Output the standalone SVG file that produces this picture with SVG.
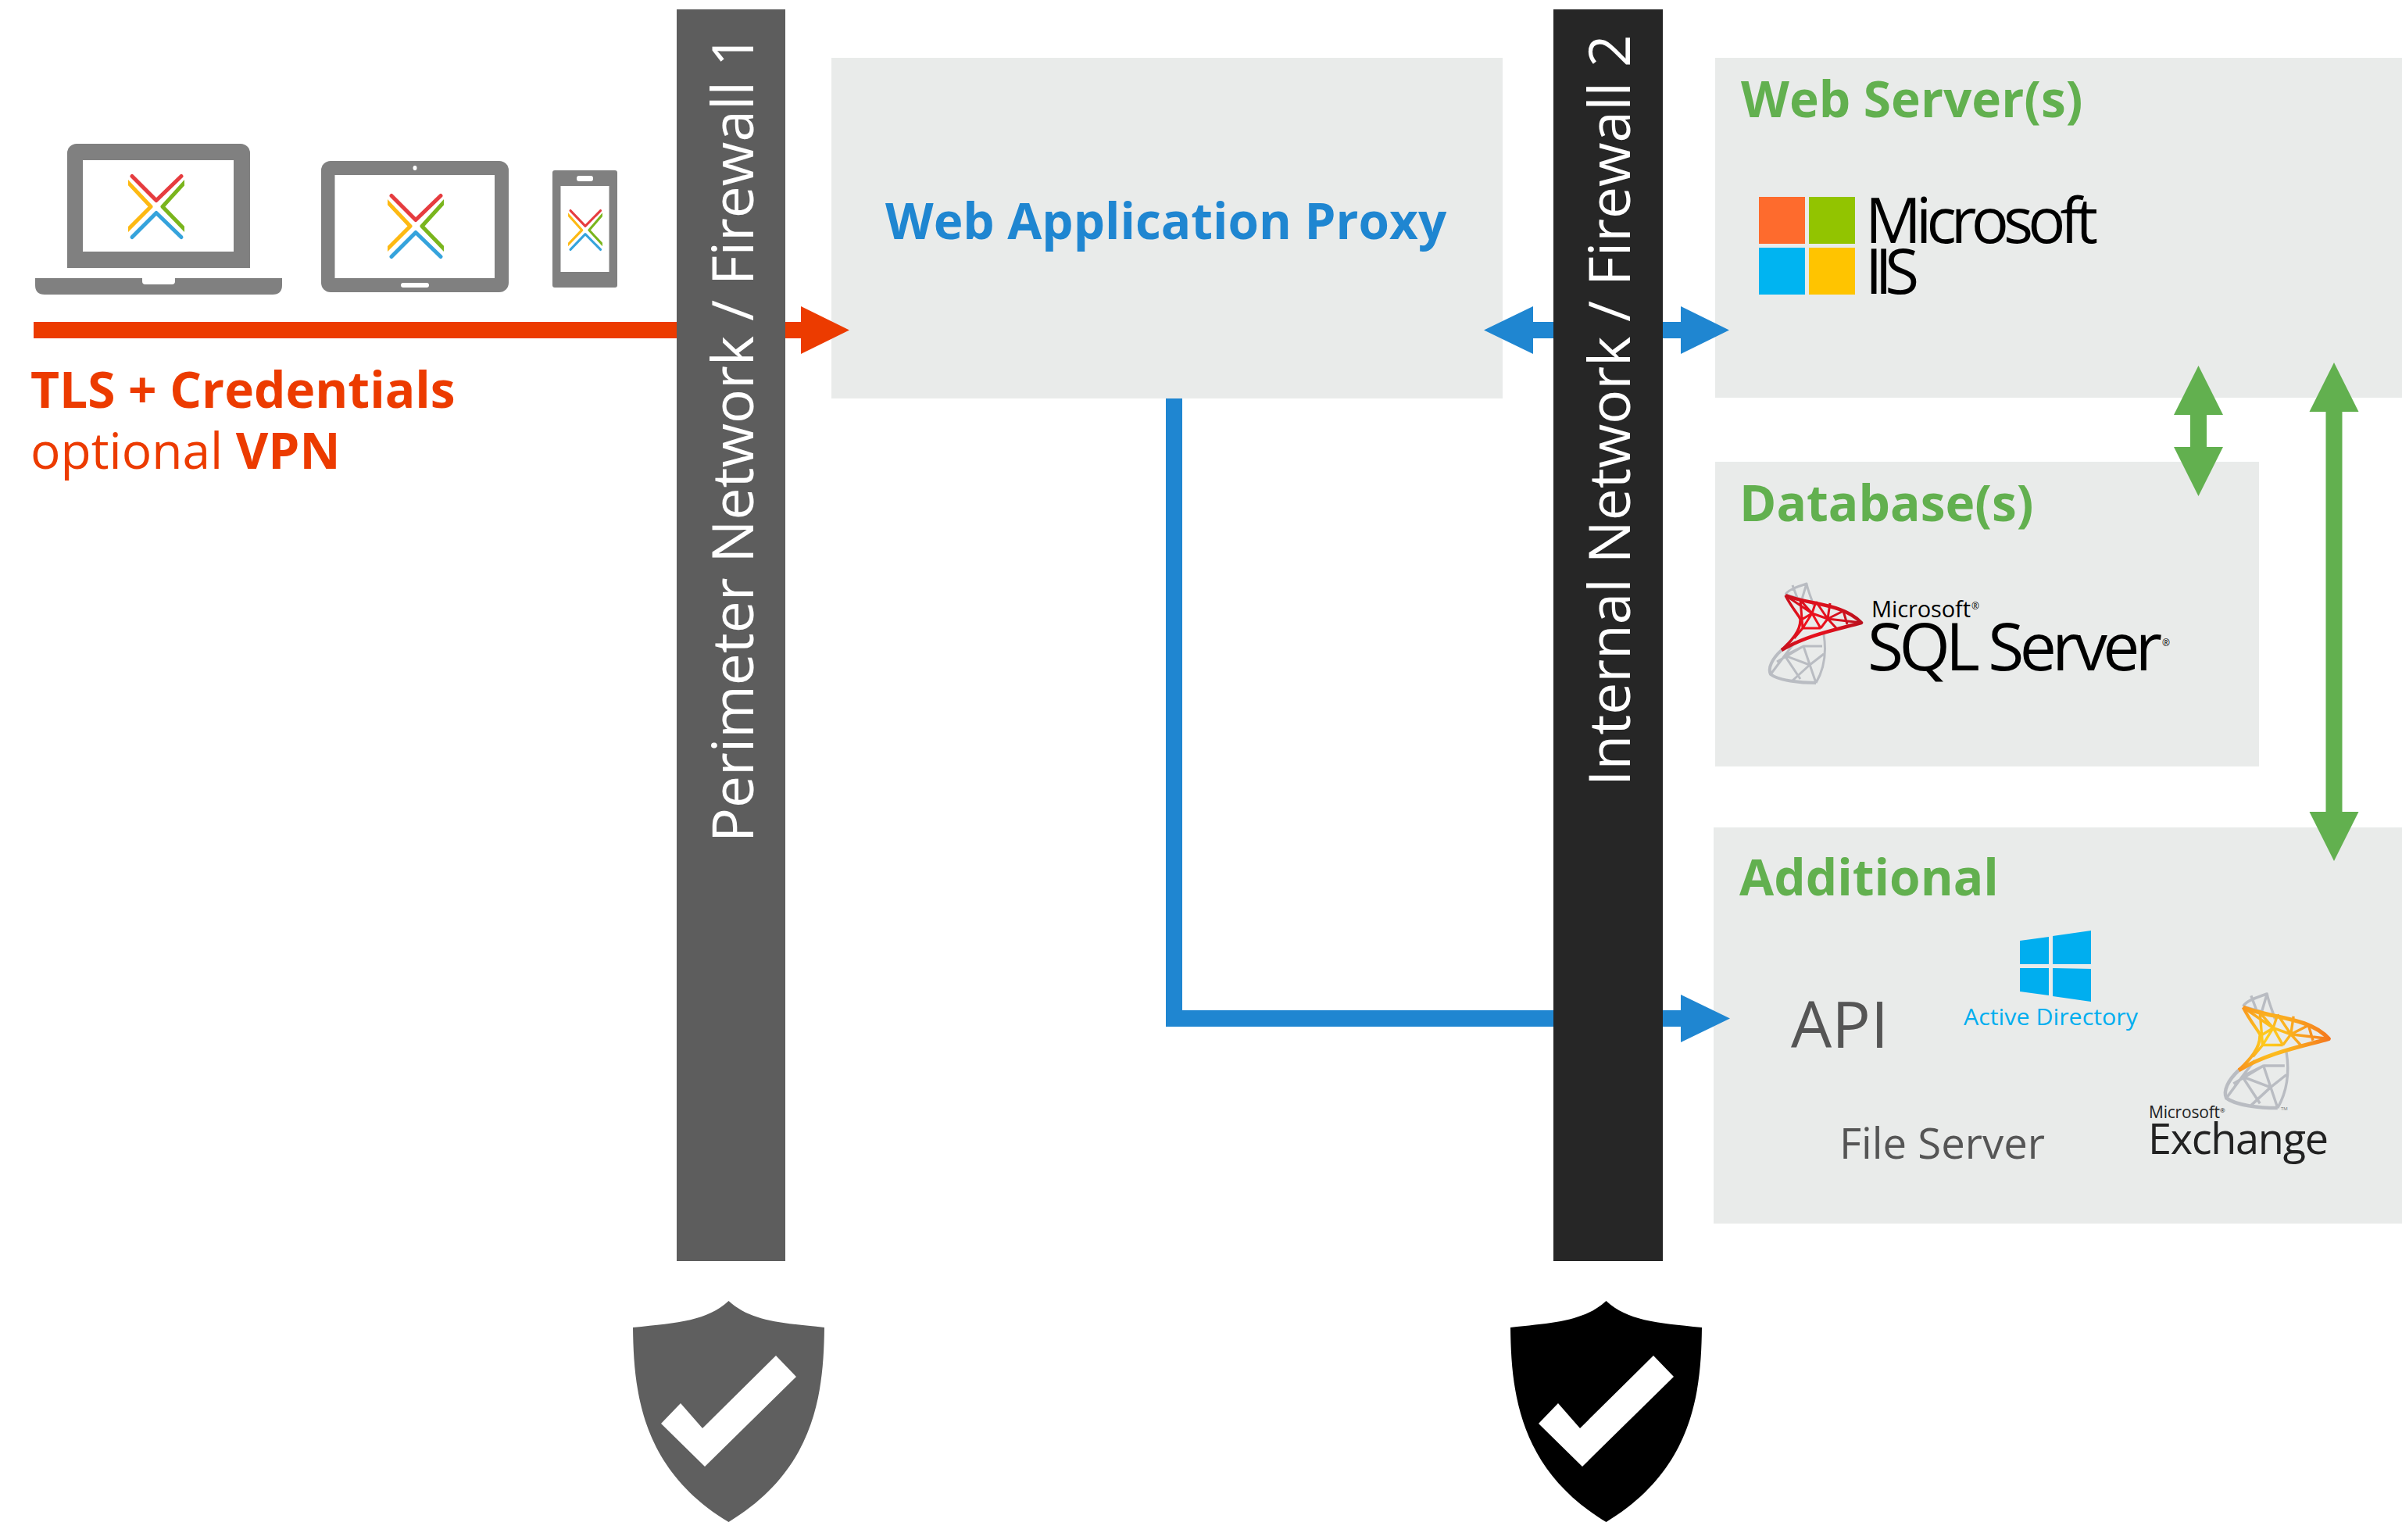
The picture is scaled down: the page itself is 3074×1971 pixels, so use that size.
<svg xmlns="http://www.w3.org/2000/svg" xmlns:xlink="http://www.w3.org/1999/xlink" width="3074" height="1971" viewBox="0 0 3074 1971">
<style>
text{font-family:"Open Sans","Noto Sans","Liberation Sans",sans-serif}
.box{fill:#e9ebea}
.h{font-weight:700;font-size:64px;fill:#62b04f}
.org{fill:#ec3b00;font-size:64px}
.b{font-weight:700}
.fw{font-size:73px;fill:#fff}
.dev{fill:#808080}
.scr{fill:#fff}
.gr{fill:#555;font-weight:400}
.ms{font-weight:400;fill:#000}
.blue{fill:#1f86d1}
.green{fill:#62b04f}
.orange{fill:#ec3b00}
.xl{fill:none;stroke-width:5;stroke-linecap:round;stroke-linejoin:round}
.mesh{fill:none;stroke-linejoin:round}
</style>
<defs>
<radialGradient id="sqlGrad" gradientUnits="userSpaceOnUse" cx="55" cy="50" r="70">
<stop offset="0" stop-color="#f5101c"/><stop offset="1" stop-color="#b3121f"/>
</radialGradient>
<radialGradient id="exGrad" gradientUnits="userSpaceOnUse" cx="50" cy="50" r="70">
<stop offset="0" stop-color="#ffd21e"/><stop offset="1" stop-color="#f4751f"/>
</radialGradient>
<clipPath id="xclip"><rect x="-36" y="-44" width="72" height="88"/></clipPath>
<g id="x" clip-path="url(#xclip)">
<path class="xl" stroke="#e63c3f" d="M-31,-39 L0,-8 L32,-39"/>
<path class="xl" stroke="#35a3dc" d="M-31,39 L0,8 L32,39"/>
<path class="xl" stroke="#fdb913" d="M-38,-33 L-7,0 L-38,31"/>
<path class="xl" stroke="#7ab51d" d="M38,-33 L8,0 L38,31"/>
</g>
<g id="meshLow" class="mesh" stroke="#b9bcc2" stroke-width="3">
<path d="M21,14 C24,8 36,4 48,0 C50,10 54,18 57,28 M21,14 L42,20 M30,2 L36,18 M48,0 L42,20"/>
<path stroke-width="4" d="M16,85 C4,96 -2,108 2,116 C12,124 40,127 60,127"/>
<path d="M60,127 C70,110 74,90 70,65 M2,116 L20,92 L44,80 L60,127 M20,92 L40,122 M20,92 L52,104 L70,90 M10,100 L44,80 M30,124 L52,104 M34,74 L20,92 M44,80 L68,80"/>
</g>
<g id="meshTop" class="mesh">
<path stroke-width="4.5" d="M21,15 C50,27 95,25 118,50 C90,58 50,65 16,85"/>
<path stroke-width="3.5" d="M21,15 C30,33 42,45 40,47 C40,60 30,72 16,85"/>
<path stroke-width="3" d="M21,15 L55,38 L75,45 L118,50 M60,23 L55,38 L43,57 M60,23 L75,45 L66,57 M95,35 L75,45 L87,58 M40,21 L43,57 M55,38 L66,57 M40,47 L55,38 M43,57 L66,57 M40,21 L55,38 M78,25 L75,45 M95,35 L100,52 M32,70 L43,57"/>
</g>
</defs>

<g id="web-application-proxy">
<rect class="box" x="1064" y="74" width="859" height="436"/>
<text class="b" x="1133" y="306" font-size="63.8" fill="#1f86d1">Web Application Proxy</text>
</g>

<g id="web-servers">
<rect class="box" x="2195" y="74" width="879" height="435"/>
<text class="h" x="2228" y="150">Web Server(s)</text>
<rect x="2251" y="252" width="59" height="60" fill="#fe6b2d"/>
<rect x="2315" y="252" width="59" height="60" fill="#92c400"/>
<rect x="2251" y="317" width="59" height="60" fill="#00b4f1"/>
<rect x="2315" y="317" width="59" height="60" fill="#ffc400"/>
<text class="ms" x="2387" y="311" font-size="80" textLength="298">Microsoft</text>
<text class="ms" x="2387" y="376" font-size="80" textLength="69">IIS</text>
</g>

<g id="databases">
<rect class="box" x="2195" y="591" width="696" height="390"/>
<text class="h" x="2226" y="667">Database(s)</text>
<use xlink:href="#meshLow" href="#meshLow" transform="translate(2264,747)"/>
<use xlink:href="#meshTop" href="#meshTop" stroke="url(#sqlGrad)" transform="translate(2264,747)"/>
<text class="ms" x="2395" y="790" font-size="29" textLength="127">Microsoft</text>
<text class="ms" x="2523" y="780" font-size="12">®</text>
<text class="ms" x="2390" y="858" font-size="84" textLength="377">SQL Server</text>
<text class="ms" x="2767" y="827" font-size="12">®</text>
</g>

<g id="additional">
<rect class="box" x="2193" y="1059" width="881" height="507"/>
<text class="h" x="2226" y="1146">Additional</text>
<text class="gr" x="2292" y="1341" font-size="82" textLength="125" lengthAdjust="spacingAndGlyphs">API</text>
<g id="windows-logo" fill="#00aeef">
<path d="M2585,1204 L2622,1199 V1234 H2585 Z"/>
<path d="M2627,1198 L2676,1191 V1234 L2627,1234 Z"/>
<path d="M2585,1239 H2622 V1274 L2585,1269 Z"/>
<path d="M2627,1239 L2676,1240 V1282 L2627,1275 Z"/>
</g>
<text x="2513" y="1312" font-size="30" fill="#00aeef" textLength="223" lengthAdjust="spacingAndGlyphs">Active Directory</text>
<text class="gr" x="2354" y="1483" font-size="54" textLength="263" lengthAdjust="spacingAndGlyphs">File Server</text>
<use xlink:href="#meshLow" href="#meshLow" transform="translate(2847,1272) scale(1.13,1.15)"/>
<use xlink:href="#meshTop" href="#meshTop" stroke="url(#exGrad)" transform="translate(2847,1272) scale(1.13,1.15)"/>
<text class="ms" x="2750" y="1431" font-size="21" style="fill:#222" textLength="91">Microsoft</text>
<text class="ms" x="2841" y="1424" font-size="8" style="fill:#222">®</text>
<text x="2919" y="1421" font-size="6" fill="#777">TM</text>
<text class="ms" x="2749" y="1477" font-size="54" style="fill:#222" textLength="231">Exchange</text>
</g>

<g id="connectors">
<path class="orange" d="M43,412 H1025 V392 L1087,422.5 L1025,453 V433 H43 Z"/>
<path class="blue" d="M1899,422.5 L1962,392 V412 H2151 V392 L2213,422.5 L2151,453 V433 H1962 V453 Z"/>
<path class="blue" d="M1492,510 H1513 V1293 H2151 V1273 L2214,1303.5 L2151,1334 V1314 H1492 Z"/>
<path class="green" d="M2813.5,468 L2845,531 H2824 V572 H2845 L2813.5,635 L2782,572 H2803 V531 H2782 Z"/>
<path class="green" d="M2987,464 L3018.5,527 H2997.5 V1039 H3018.5 L2987,1102 L2955.5,1039 H2976.5 V527 H2955.5 Z"/>
</g>

<g id="firewall-1">
<rect x="866" y="12" width="139" height="1602" fill="#5d5d5d"/>
<text class="fw" transform="translate(964,1078) rotate(-90)">Perimeter Network / Firewall 1</text>
</g>
<g id="firewall-2">
<rect x="1988" y="12" width="140" height="1602" fill="#262626"/>
<text class="fw" transform="translate(2086,1006) rotate(-90)">Internal Network / Firewall 2</text>
</g>

<g id="shield-1">
<path fill="#5f5f5f" d="M932.5,1665 C905,1690 870,1693 810,1699 C811,1780 820,1880 932.5,1948 C1045,1880 1054,1780 1055,1699 C995,1693 960,1690 932.5,1665 Z"/>
<path fill="#fff" d="M846,1822 L871,1796 L899,1828 L993,1735 L1019,1762 L902,1877 Z"/>
</g>
<g id="shield-2">
<path fill="#000" d="M2055.5,1665 C2028,1690 1993,1693 1933,1699 C1934,1780 1943,1880 2055.5,1948 C2168,1880 2177,1780 2178,1699 C2118,1693 2083,1690 2055.5,1665 Z"/>
<path fill="#fff" d="M1969,1822 L1994,1796 L2022,1828 L2116,1735 L2142,1762 L2025,1877 Z"/>
</g>

<g id="laptop">
<rect class="dev" x="86" y="184" width="234" height="159" rx="12"/>
<rect class="dev" x="86" y="330" width="234" height="13"/>
<rect class="scr" x="106" y="205" width="193" height="117"/>
<path class="dev" d="M45,356 H182 V360 Q182,364 186,364 H220 Q224,364 224,360 V356 H361 V365 Q361,377 349,377 H57 Q45,377 45,365 Z"/>
<use xlink:href="#x" href="#x" transform="translate(200,264.5)"/>
</g>
<g id="tablet">
<rect class="dev" x="411" y="206" width="240" height="168" rx="12"/>
<rect class="scr" x="428.5" y="224" width="204.5" height="132"/>
<ellipse class="scr" cx="531" cy="215" rx="2.5" ry="3"/>
<rect class="scr" x="513" y="362" width="36" height="6" rx="3"/>
<use xlink:href="#x" href="#x" transform="translate(532,289.5)"/>
</g>
<g id="phone">
<rect class="dev" x="707" y="218" width="83" height="150" rx="3"/>
<rect class="scr" x="717.5" y="238" width="62" height="110"/>
<rect class="scr" x="738" y="225" width="21" height="7" rx="3"/>
<use xlink:href="#x" href="#x" transform="translate(749,294.5) scale(.61,.64)"/>
</g>

<g id="client-label">
<text class="org b" x="39" y="522">TLS + Credentials</text>
<text class="org" x="39" y="600">optional <tspan class="b">VPN</tspan></text>
</g>
</svg>
